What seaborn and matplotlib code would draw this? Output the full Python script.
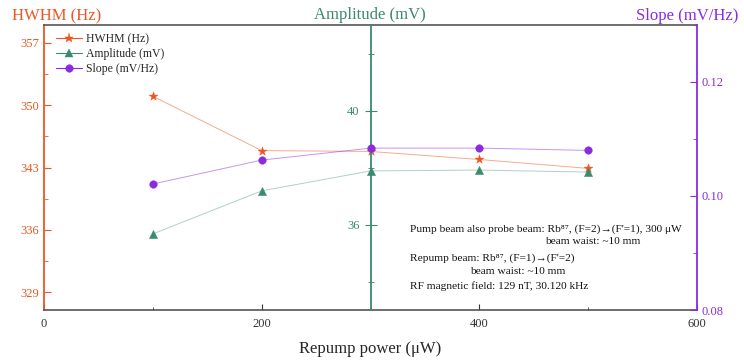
import matplotlib
matplotlib.use("Agg")
import matplotlib.pyplot as plt
import seaborn as sns
import pandas as pd
from matplotlib.lines import Line2D
from matplotlib.ticker import MultipleLocator, FormatStrFormatter

sns.set_style("ticks")
plt.rcParams['font.family'] = ['Liberation Serif', 'DejaVu Serif']

power = [100, 200, 300, 400, 500]
hwhm = [351.0, 344.9, 344.8, 343.9, 342.9]
amplitude = [35.67, 37.18, 37.88, 37.91, 37.84]
slope = [0.1021, 0.1063, 0.1084, 0.1084, 0.1080]

c_h = "#EE5522"
c_a = "#3A8A6E"
c_s = "#8A2BE2"

df = pd.DataFrame({"power": power, "hwhm": hwhm, "amp": amplitude, "slope": slope})

fig = plt.figure(figsize=(7.44, 3.63), dpi=100)
ax = fig.add_axes([44/744, 1-310/363, (697-44)/744, (310-25)/363])
ax2 = ax.twinx()
ax3 = ax.twinx()

sns.lineplot(data=df, x="power", y="hwhm", ax=ax, color=c_h, alpha=0.5, lw=0.7)
sns.scatterplot(data=df, x="power", y="hwhm", ax=ax, color=c_h, marker="*", s=45, edgecolor=c_h, linewidth=0.3, zorder=5)
sns.lineplot(data=df, x="power", y="amp", ax=ax2, color=c_a, alpha=0.4, lw=0.7)
sns.scatterplot(data=df, x="power", y="amp", ax=ax2, color=c_a, marker="^", s=35, edgecolor=c_a, linewidth=0.3, zorder=5)
sns.lineplot(data=df, x="power", y="slope", ax=ax3, color=c_s, alpha=0.5, lw=0.7)
sns.scatterplot(data=df, x="power", y="slope", ax=ax3, color=c_s, marker="o", s=30, edgecolor=c_s, linewidth=0.3, zorder=5)

# x axis
ax.set_xlim(0, 600)
ax.xaxis.set_major_locator(MultipleLocator(200))
ax.xaxis.set_minor_locator(MultipleLocator(100))
ax.tick_params(axis='x', which='both', direction='in', labelsize=9, colors='#333333', pad=6)
ax.tick_params(axis='x', which='major', length=4)
ax.tick_params(axis='x', which='minor', length=2.5)
ax.set_xlabel("Repump power (μW)", fontsize=12, labelpad=8)

# left HWHM
ax.set_ylim(327, 359)
ax.set_yticks([329, 336, 343, 350, 357])
ax.yaxis.set_minor_locator(MultipleLocator(3.5))
ax.tick_params(axis='y', which='both', direction='in', colors=c_h, labelsize=9)
ax.tick_params(axis='y', which='major', length=5)
ax.tick_params(axis='y', which='minor', length=3)
ax.set_ylabel("")
ax.spines['left'].set_color(c_h)
ax.spines['left'].set_linewidth(1.3)
for s in ['top', 'bottom']:
    ax.spines[s].set_color('#555555')
    ax.spines[s].set_linewidth(1.2)
ax.spines['right'].set_visible(False)

# middle amplitude
ax2.set_ylim(33, 43)
ax2.yaxis.set_major_locator(MultipleLocator(4))
ax2.yaxis.set_minor_locator(MultipleLocator(2))
ax2.yaxis.tick_left()
ax2.spines['left'].set_position(('data', 300))
ax2.spines['left'].set_color(c_a)
ax2.spines['left'].set_linewidth(1.3)
for s in ['right', 'top', 'bottom']:
    ax2.spines[s].set_visible(False)
ax2.tick_params(axis='y', which='both', direction='inout', colors=c_a, labelsize=9)
ax2.tick_params(axis='y', which='major', length=9)
ax2.tick_params(axis='y', which='minor', length=5)
ax2.set_ylabel("")

# right slope
ax3.set_ylim(0.08, 0.13)
ax3.yaxis.set_major_locator(MultipleLocator(0.02))
ax3.yaxis.set_minor_locator(MultipleLocator(0.01))
ax3.spines['right'].set_color(c_s)
ax3.spines['right'].set_linewidth(1.3)
for s in ['left', 'top', 'bottom']:
    ax3.spines[s].set_visible(False)
ax3.tick_params(axis='y', which='both', direction='in', colors=c_s, labelsize=9)
ax3.tick_params(axis='y', which='major', length=5)
ax3.tick_params(axis='y', which='minor', length=3)
ax3.yaxis.set_major_formatter(FormatStrFormatter('%.2f'))
ax3.set_ylabel("")

# axis titles at top
fig.text(12/744, 1-16/363, "HWHM (Hz)", color=c_h, fontsize=12, va='center', ha='left')
fig.text(370/744, 1-15/363, "Amplitude (mV)", color=c_a, fontsize=12, va='center', ha='center')
fig.text(738/744, 1-16/363, "Slope (mV/Hz)", color=c_s, fontsize=12, va='center', ha='right')

# legend
handles = [
    Line2D([], [], color=c_h, marker='*', markersize=6.5, lw=0.8, markeredgewidth=0.3, label="HWHM (Hz)"),
    Line2D([], [], color=c_a, marker='^', markersize=5.5, lw=0.8, markeredgewidth=0.3, label="Amplitude (mV)"),
    Line2D([], [], color=c_s, marker='o', markersize=5.5, lw=0.8, markeredgewidth=0.3, label="Slope (mV/Hz)"),
]
leg = ax3.legend(handles=handles, loc='upper left', bbox_to_anchor=(0.005, 1.0), frameon=False,
                 fontsize=8.5, handlelength=2.2, labelspacing=0.25, borderaxespad=0.3, handletextpad=0.4)

# annotation text
tk = dict(fontsize=8.2, color='#111111', va='center', ha='left')
fig.text(410/744, 1-229/363, "Pump beam also probe beam: Rb⁸⁷, (F=2)→(F'=1), 300 μW", **tk)
fig.text(545/744, 1-242/363, "beam waist: ~10 mm", **tk)
fig.text(410/744, 1-258/363, "Repump beam: Rb⁸⁷, (F=1)→(F'=2)", **tk)
fig.text(470/744, 1-272/363, "beam waist: ~10 mm", **tk)
fig.text(410/744, 1-286/363, "RF magnetic field: 129 nT, 30.120 kHz", **tk)

fig.savefig("out.png", dpi=100)
